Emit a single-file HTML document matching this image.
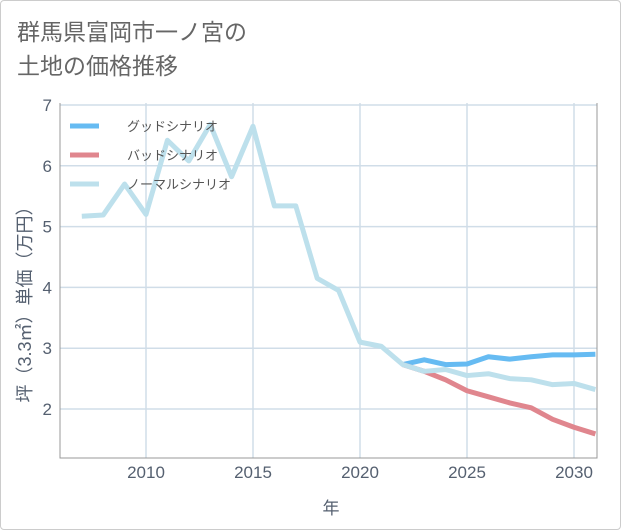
<!DOCTYPE html>
<html><head><meta charset="utf-8">
<style>
body{margin:0;background:#fff;}
#wrap{position:relative;width:621px;height:530px;overflow:hidden;font-family:"Liberation Sans","Noto Sans CJK JP",sans-serif;}
#frame{position:absolute;left:0;top:0;width:619px;height:528px;border:1px solid #ccc;border-radius:4px;}
#title{position:absolute;left:17px;top:15px;font-size:23px;line-height:34px;color:#666;}
svg{position:absolute;left:0;top:0;}
</style></head><body>
<div id="wrap">
<div id="frame"></div>
<div id="title">群馬県富岡市一ノ宮の<br>土地の価格推移</div>
<svg id="chart" width="621" height="530"></svg>
</div>
<script>
const years=[2007,2008,2009,2010,2011,2012,2013,2014,2015,2016,2017,2018,2019,2020,2021,2022,2023,2024,2025,2026,2027,2028,2029,2030,2031];
const normal=[5.17,5.19,5.70,5.20,6.42,6.08,6.68,5.82,6.65,5.34,5.34,4.15,3.95,3.10,3.03,2.73,2.62,2.65,2.55,2.58,2.50,2.48,2.40,2.42,2.32];
const goodYears=[2022,2023,2024,2025,2026,2027,2028,2029,2030,2031];
const good=[2.73,2.81,2.73,2.74,2.86,2.82,2.86,2.89,2.89,2.90];
const bad=[2.73,2.62,2.48,2.30,2.20,2.10,2.02,1.83,1.70,1.59];
const xTicks=[2010,2015,2020,2025,2030];
const yTicks=[2,3,4,5,6,7];
const L=60,R=597,T=103,B=458;
const x=v=>146+(v-2010)*21.4;
const y=v=>409-(v-2)*60.8;
const NS="http://www.w3.org/2000/svg";
const svg=document.getElementById('chart');
function mk(t,a){const e=document.createElementNS(NS,t);for(const k in a)e.setAttribute(k,a[k]);svg.appendChild(e);return e;}
xTicks.forEach(t=>{
 const g=mk('line',{x1:x(t),x2:x(t),y1:T,y2:B,stroke:'#d0dde8','stroke-width':1.5});
 
 
 const tx=mk('text',{x:x(t),y:478,'text-anchor':'middle','font-size':17,fill:'#556070'});
 tx.textContent=t;
 
 
});
yTicks.forEach(t=>{
 const g=mk('line',{x1:L,x2:R,y1:y(t),y2:y(t),stroke:'#d0dde8','stroke-width':1.5});
 
 
 const tx=mk('text',{x:52,y:y(t)+6,'text-anchor':'end','font-size':17,fill:'#556070'});
 tx.textContent=t;
 
 
});
const ax=mk('path',{d:`M${L},${T}V${B}H${R}V${T}`,fill:'none',stroke:'#999','stroke-width':1});


function line(xs,vs,c,name){
 const p=mk('polyline',{points:xs.map((v,i)=>x(v)+','+y(vs[i])).join(' '),fill:'none',stroke:c,'stroke-width':5,'stroke-linejoin':'round'});
 
 
}
line(goodYears,good,'#66bbf2','good-scenario-line');
line(goodYears,bad,'#e0868e','bad-scenario-line');
line(years,normal,'#bde0ec','normal-scenario-line');
const leg=[['グッドシナリオ','#66bbf2'],['バッドシナリオ','#e0868e'],['ノーマルシナリオ','#bde0ec']];
leg.forEach((l,i)=>{
 const yy=126+i*29;
 const s=mk('line',{x1:70,x2:99,y1:yy,y2:yy,stroke:l[1],'stroke-width':5});
 
 
 const t=mk('text',{x:127,y:yy+5,'font-size':13,fill:'#555'});
 t.textContent=l[0];
 
 
});
const xt=mk('text',{x:331,y:514,'text-anchor':'middle','font-size':17,fill:'#556070'});
xt.textContent='年';


const yt=mk('text',{x:0,y:0,'text-anchor':'middle','font-size':18,fill:'#556070',transform:'translate(31,300) rotate(-90)'});
yt.textContent='坪（3.3㎡）単価（万円）';


</script>
</body></html>
